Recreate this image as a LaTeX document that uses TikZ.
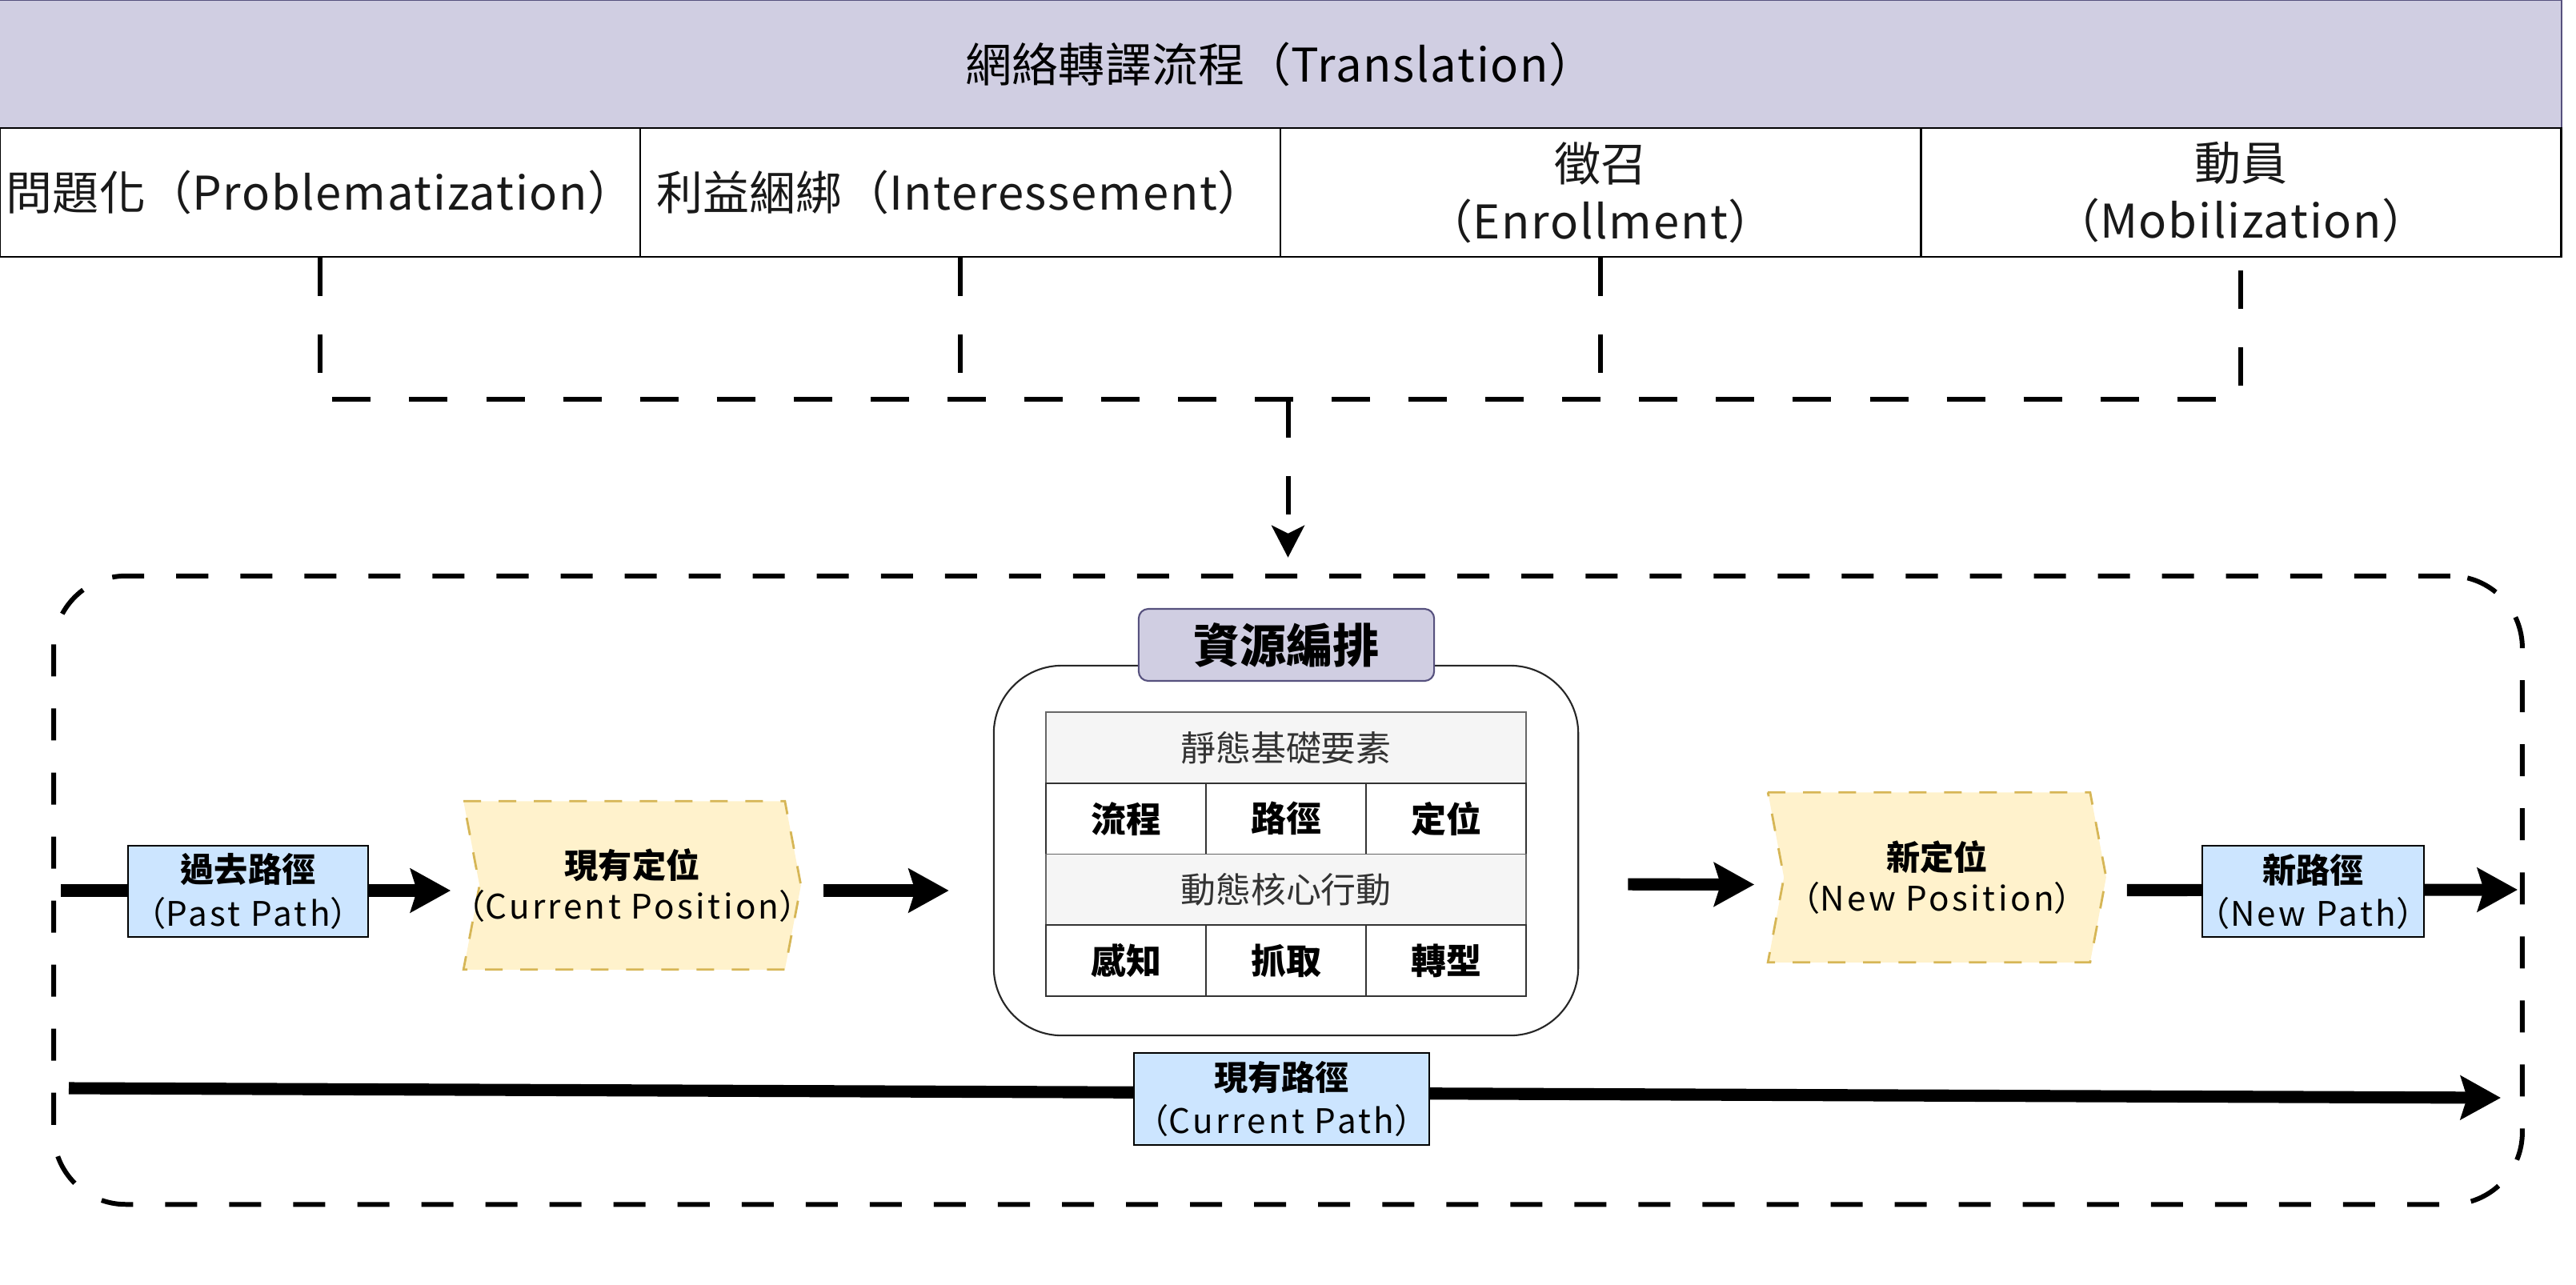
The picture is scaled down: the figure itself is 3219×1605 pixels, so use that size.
\documentclass[tikz,border=0pt]{standalone}
\usepackage{fontspec}
\setmainfont{Noto Sans CJK TC}
\newfontfamily\latA{Noto Sans CJK TC}[LetterSpace=3]
\newfontfamily\latB{Noto Sans CJK TC}[LetterSpace=8]
\usetikzlibrary{arrows.meta}
\definecolor{hdrfill}{HTML}{D0CEE2}
\definecolor{hdrdraw}{HTML}{56517E}
\definecolor{bluefill}{HTML}{CCE5FF}
\definecolor{yelfill}{HTML}{FFF2CC}
\definecolor{yeldraw}{HTML}{D6B656}
\definecolor{grayfill}{HTML}{F5F5F5}
\definecolor{graydraw}{HTML}{666666}
\definecolor{txtgray}{HTML}{333333}
\pgfdeclarelayer{bg}
\pgfsetlayers{bg,main}
\begin{document}
\begin{tikzpicture}[x=0.01cm,y=-0.01cm,
  hdrbox/.style={draw=hdrdraw,fill=hdrfill,line width=0.6pt,inner sep=0pt,minimum width=32cm,minimum height=1.6cm,font=\fontsize{16.5}{20}\selectfont},
  phasecell/.style={draw=black,line width=0.7pt,inner sep=0pt,text width=8cm,minimum height=1.61cm,align=center,font=\fontsize{16.5}{20.5}\selectfont,text=black!90},
  dashconn/.style={line width=1.7pt,dash pattern=on 0.48cm off 0.48cm},
  container/.style={draw=black,line width=1.7pt,dash pattern=on 0.4cm off 0.4cm,rounded corners=0.9cm,inner sep=0pt,minimum width=30.83cm,minimum height=7.85cm},
  bigarrow/.style={line width=4.3pt,-{Stealth[length=5mm,width=5.4mm,inset=0.8mm]}},
  pathbox/.style={draw=black,fill=bluefill,line width=0.5pt,inner sep=0pt,align=center,font=\fontsize{12}{15.5}\selectfont},
  posnode/.style={inner sep=0pt,align=center,font=\fontsize{12}{14.5}\selectfont},
  stepshape/.style={draw=yeldraw,fill=yelfill,line width=0.8pt,dash pattern=on 0.22cm off 0.22cm},
  panel/.style={draw=black!85,fill=white,line width=0.6pt,rounded corners=0.85cm,inner sep=0pt,minimum width=7.3cm,minimum height=4.62cm},
  paneltitle/.style={draw=hdrdraw,fill=hdrfill,line width=0.6pt,rounded corners=0.12cm,inner sep=0pt,minimum width=3.69cm,minimum height=0.9cm,font=\fontsize{16.5}{20}\selectfont\bfseries},
  grayrow/.style={draw=graydraw,fill=grayfill,line width=0.5pt,inner sep=0pt,minimum width=6cm,minimum height=0.8875cm,text=txtgray,font=\fontsize{12.5}{15}\selectfont},
  tcell/.style={draw=black!80,fill=white,line width=0.5pt,inner sep=0pt,minimum width=2cm,minimum height=0.8875cm,font=\fontsize{12.5}{15}\selectfont\bfseries}
]
\useasboundingbox (0,0) rectangle (3219,1605);

% header table
\node[hdrbox] (hdr) at (1600,80) {網絡轉譯流程（{\latA Translation}）};
\node[phasecell] (p1) at (400,240.5) {問題化（{\latA Problematization}）};
\node[phasecell] (p2) at (1200,240.5) {利益綑綁（{\latA Interessement}）};
\node[phasecell] (p3) at (2000,240.5) {徵召\\（{\latA Enrollment}）};
\node[phasecell] (p4) at (2800,240.5) {動員\\（{\latA Mobilization}）};

% big dashed container
\node[container] (cont) at (1609.5,1112.5) {};

% dashed connectors
\coordinate (jL) at (400,499);
\coordinate (jR) at (2800,499);
\coordinate (jM) at (jL -| cont.north);
\draw[dashconn] (p1.south) -- (jL) -- (jR) -- (p4.south);
\draw[dashconn] (p2.south) -- (p2.south |- jL);
\draw[dashconn] (p3.south) -- (p3.south |- jL);
\draw[dashconn,-{Stealth[length=4mm,width=4.1mm,inset=1mm]},shorten >=0.2cm] (jM) -- (cont.north);

% nodes of the lower row
\node[pathbox,minimum width=3cm,minimum height=1.14cm] (past) at (310,1114) {\bfseries 過去路徑\\（{\latB Past Path}）};
\node[posnode,minimum width=4.2cm,minimum height=2.09cm] (cp) at (790,1106.5) {\bfseries 現有定位\\\makebox[3.8cm]{（{\latB Current Position}）}};
\node[panel] (rp) at (1607,1063) {};
\node[paneltitle] (rt) at (1607.5,806) {資源編排};
\node[grayrow] (t1) at (1607,934.4) {靜態基礎要素};
\node[tcell] (t21) at (1407,1023.1) {流程};
\node[tcell] (t22) at (1607,1023.1) {路徑};
\node[tcell] (t23) at (1807,1023.1) {定位};
\node[grayrow] (t3) at (1607,1111.9) {動態核心行動};
\node[tcell] (t41) at (1407,1200.6) {感知};
\node[tcell] (t42) at (1607,1200.6) {抓取};
\node[tcell] (t43) at (1807,1200.6) {轉型};
\node[posnode,minimum width=4.21cm,minimum height=2.11cm] (np) at (2420.5,1096.5) {\bfseries 新定位\\\makebox[3.8cm]{（{\latB New Position}）}};
\node[pathbox,minimum width=2.77cm,minimum height=1.14cm] (npath) at (2890.5,1114) {\bfseries 新路徑\\\makebox[2.6cm]{（{\latB New Path}）}};
\node[pathbox,minimum width=3.69cm,minimum height=1.15cm] (curp) at (1601.5,1373.5) {\bfseries 現有路徑\\\makebox[3.4cm]{（{\latB Current Path}）}};

% background: step shapes and arrows
\coordinate (a0) at (76,1113);
\coordinate (e4) at (3146,1112);
\coordinate (c5L) at (86,1360);
\coordinate (c5R) at (3125,1372);
\begin{pgfonlayer}{bg}
\path[stepshape] (cp.north west) -- ([xshift=-0.2cm]cp.north east) -- (cp.east) -- ([xshift=-0.2cm]cp.south east) -- (cp.south west) -- ([xshift=0.2cm]cp.west) -- cycle;
\path[stepshape] (np.north west) -- ([xshift=-0.2cm]np.north east) -- (np.east) -- ([xshift=-0.2cm]np.south east) -- (np.south west) -- ([xshift=0.2cm]np.west) -- cycle;
\draw[bigarrow,shorten >=0.16cm] (a0) -- (a0 -| cp.west);
\draw[bigarrow,shorten <=0.28cm,shorten >=0.55cm] (cp.east |- a0) -- (rp.west |- a0);
\draw[bigarrow,shorten <=0.61cm,shorten >=0.17cm] ([yshift=-0.42cm]rp.east) -- ([yshift=-0.09cm]np.west);
\draw[bigarrow,shorten <=0.26cm] ([yshift=-0.16cm]np.east) -- (e4);
\draw[bigarrow] (c5L) -- (c5R);
\end{pgfonlayer}
\end{tikzpicture}
\end{document}
